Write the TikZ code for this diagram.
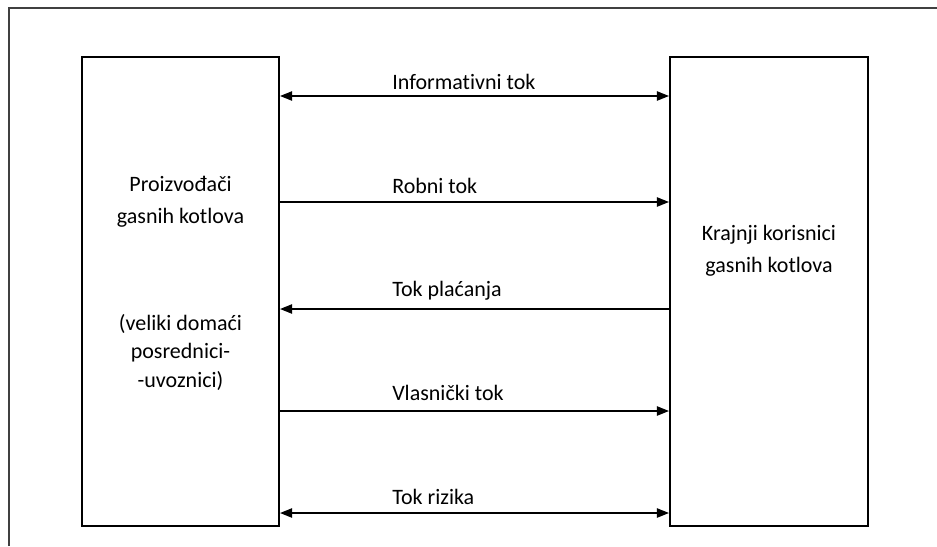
\documentclass[tikz,border=0pt]{standalone}
\usepackage{fontspec}
\setmainfont[RawFeature={-liga}]{Carlito}
\usetikzlibrary{arrows.meta}
\begin{document}
\begin{tikzpicture}[x=0.75pt,y=-0.75pt,
  boxnode/.style={draw=black,line width=1.6pt,minimum height=351.75pt,inner sep=0pt},
  flow/.style={line width=1pt,-{Triangle[length=9pt,width=7pt]}},
  biflow/.style={line width=1pt,{Triangle[length=9pt,width=7pt]}-{Triangle[length=9pt,width=7pt]}},
  lbl/.style={anchor=base west,inner sep=0pt,font=\fontsize{16.5}{20}\selectfont},
  txt/.style={anchor=base,inner sep=0pt,font=\fontsize{16.5}{20}\selectfont}]
\useasboundingbox (0,0) rectangle (937,546);
\fill[white] (0,0) rectangle (937,546);
% outer frame (cropped)
\draw[line width=1.2pt,black!75] (9,546) -- (9,8) -- (937,8);
% boxes
\node[boxnode,minimum width=147.75pt] (L) at (180.5,291.5) {};
\node[boxnode,minimum width=148.5pt] (R) at (769,291.5) {};
% box texts
\node[txt] (l1) at (180.5,191) {Proizvođači};
\node[txt] (l2) at (180.5,223) {gasnih kotlova};
\node[txt] (l3) at (180.5,330) {(veliki domaći};
\node[txt] (l4) at (180.5,358) {posrednici-};
\node[txt] (l5) at (180.5,387) {-uvoznici)};
\node[txt] (r1) at (769,240) {Krajnji korisnici};
\node[txt] (r2) at (769,272) {gasnih kotlova};
% flows
\draw[biflow] (L.east |- 0,96) -- (R.west |- 0,96);
\draw[flow] (L.east |- 0,202) -- (R.west |- 0,202);
\draw[flow] (R.west |- 0,309) -- (L.east |- 0,309);
\draw[flow] (L.east |- 0,411) -- (R.west |- 0,411);
\draw[biflow] (L.east |- 0,513) -- (R.west |- 0,513);
% labels
\node[lbl] (f1) at (392,89) {Informativni tok};
\node[lbl] (f2) at (392,193) {Robni tok};
\node[lbl] (f3) at (392,296) {Tok plaćanja};
\node[lbl] (f4) at (392,400) {Vlasnički tok};
\node[lbl] (f5) at (392,504) {Tok rizika};
\end{tikzpicture}
\end{document}
